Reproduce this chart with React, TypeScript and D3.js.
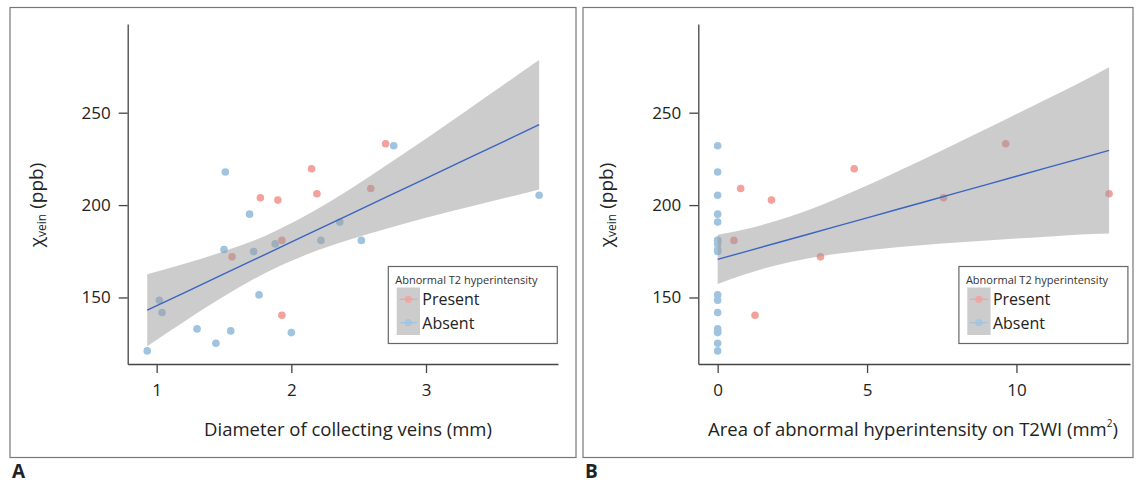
import React, { useEffect, useRef } from "react";
import * as d3 from "d3";

const yTicks = [150, 200, 250];
const xTicksA = [1, 2, 3];
const xTicksB = [0, 5, 10];

// Absent (blue) group
const chiAbsent = [121.1, 125.2, 131.0, 131.9, 133.0, 141.9, 148.5, 151.4, 174.9, 176.0, 179.0, 180.9, 180.9, 190.8, 195.1, 205.3, 217.9, 232.1];
const diameterAbsent = [0.93, 1.44, 2.0, 1.55, 1.3, 1.04, 1.02, 1.76, 1.72, 1.5, 1.88, 2.22, 2.52, 2.36, 1.69, 3.84, 1.51, 2.76];
const areaAbsent = [0, 0, 0, 0, 0, 0, 0, 0, 0, 0, 0, 0, 0, 0, 0, 0, 0, 0];

// Present (red) group
const chiPresent = [140.4, 172.0, 180.9, 202.7, 204.0, 206.1, 209.0, 219.7, 233.2];
const diameterPresent = [1.93, 1.56, 1.93, 1.9, 1.77, 2.19, 2.59, 2.15, 2.7];
const areaPresent = [1.25, 3.44, 0.545, 1.8, 7.56, 13.1, 0.77, 4.57, 9.64];

// fitted line + confidence band
const bandAx = [0.93, 1.2, 1.5, 1.8, 2.1, 2.4, 2.7, 3.0, 3.3, 3.6, 3.84];
const bandAfit = [143.1, 152.4, 162.8, 173.1, 183.5, 193.8, 204.2, 214.5, 224.9, 235.2, 243.5];
const bandAlo = [123.6, 136.7, 150.6, 163.0, 172.9, 180.6, 187.1, 193.1, 198.7, 204.1, 208.5];
const bandAhi = [162.6, 168.1, 175.0, 183.2, 194.1, 207.0, 221.3, 235.9, 251.1, 266.3, 278.5];

const bandBx = [0, 1, 2, 3, 4, 5, 6, 7, 8, 9, 10, 11, 12, 13.1];
const bandBfit = [170.6, 175.1, 179.6, 184.1, 188.6, 193.1, 197.6, 202.1, 206.6, 211.1, 215.6, 220.1, 224.6, 229.6];
const bandBlo = [157.3, 163.0, 167.6, 171.1, 173.6, 175.6, 177.2, 178.6, 179.8, 180.9, 181.9, 182.9, 183.9, 184.6];
const bandBhi = [183.9, 187.2, 191.6, 197.1, 203.6, 210.6, 218.0, 225.6, 233.4, 241.3, 249.3, 257.3, 265.3, 274.6];

const legendTitle = "Abnormal T2 hyperintensity";
const legendLabels = ["Present", "Absent"];

const FONT = "'Open Sans', sans-serif";
const RED = "#f4a09c";
const BLUE = "#a0c4e0";

const App = () => {
    const ref = useRef(null);

    useEffect(() => {
        const svg = d3.select(ref.current);
        svg.selectAll("*").remove();

        const yTop = 24;
        const yBottom = 364;
        const y = d3.scaleLinear().domain([114, 298]).range([yBottom, yTop]);

        const panels = [
            {
                label: "A", frameX: 10, frameR: 576, axisX: 127.7, axisR: 558,
                xDomain: [0.785, 3.98], xTicks: xTicksA,
                xAbsent: diameterAbsent, xPresent: diameterPresent,
                bx: bandAx, fit: bandAfit, lo: bandAlo, hi: bandAhi,
                xTitle: "Diameter of collecting veins (mm)", xTitleX: 348, sup: false,
                yTitleX: 43,
            },
            {
                label: "B", frameX: 583, frameR: 1133, axisX: 698.3, axisR: 1130,
                xDomain: [-0.648, 13.8], xTicks: xTicksB,
                xAbsent: areaAbsent, xPresent: areaPresent,
                bx: bandBx, fit: bandBfit, lo: bandBlo, hi: bandBhi,
                xTitle: "Area of abnormal hyperintensity on T2WI (mm", xTitleX: 913, sup: true,
                yTitleX: 613,
            },
        ];

        panels.forEach(p => {
            const g = svg.append("g");
            const x = d3.scaleLinear().domain(p.xDomain).range([p.axisX, p.axisR]);

            // outer frame
            g.append("rect")
                .attr("x", p.frameX).attr("y", 7.5)
                .attr("width", p.frameR - p.frameX).attr("height", 450)
                .attr("fill", "none").attr("stroke", "#777").attr("stroke-width", 1.2);

            g.append("text")
                .attr("x", p.frameX + 2).attr("y", 478)
                .attr("font-family", FONT).attr("font-weight", "bold")
                .attr("font-size", 19).attr("fill", "#222")
                .text(p.label);

            // points
            const pts = g.append("g");
            p.xAbsent.forEach((v, i) => {
                pts.append("circle").attr("cx", x(v)).attr("cy", y(chiAbsent[i]))
                    .attr("r", 3.8).attr("fill", BLUE);
            });
            p.xPresent.forEach((v, i) => {
                pts.append("circle").attr("cx", x(v)).attr("cy", y(chiPresent[i]))
                    .attr("r", 3.8).attr("fill", RED);
            });

            // confidence band + fit
            const idx = d3.range(p.bx.length);
            const area = d3.area()
                .x(i => x(p.bx[i]))
                .y0(i => y(p.lo[i]))
                .y1(i => y(p.hi[i]))
                .curve(d3.curveMonotoneX);
            g.append("path").attr("d", area(idx))
                .attr("fill", "#999").attr("fill-opacity", 0.5);

            const line = d3.line()
                .x(i => x(p.bx[i]))
                .y(i => y(p.fit[i]));
            g.append("path").attr("d", line(idx))
                .attr("fill", "none").attr("stroke", "#3a64c0").attr("stroke-width", 1.4);

            // axes
            const yAxis = d3.axisLeft(y).tickValues(yTicks).tickSize(9).tickSizeOuter(0).tickPadding(8)
                .tickFormat(d3.format("d"));
            const yg = g.append("g").attr("transform", `translate(${p.axisX},0)`).call(yAxis);
            const xAxis = d3.axisBottom(x).tickValues(p.xTicks).tickSize(9).tickSizeOuter(0).tickPadding(11)
                .tickFormat(d3.format("d"));
            const xg = g.append("g").attr("transform", `translate(0,${yBottom})`).call(xAxis);
            [yg, xg].forEach(ax => {
                ax.attr("font-family", FONT).attr("font-size", 17);
                ax.selectAll("path, line").attr("stroke", "#444").attr("stroke-width", 1.3);
                ax.selectAll("text").attr("fill", "#222");
            });

            // axis titles
            const xt = g.append("text")
                .attr("x", p.xTitleX).attr("y", 436)
                .attr("text-anchor", "middle")
                .attr("font-family", FONT).attr("font-size", 18.5).attr("fill", "#222")
                .text(p.xTitle);
            if (p.sup) {
                xt.append("tspan").attr("font-size", 10).attr("dy", -9).text("2");
                xt.append("tspan").attr("dy", 9).text(")");
            }

            const yt = g.append("text")
                .attr("transform", `translate(${p.yTitleX},${(yTop + yBottom) / 2 + 11}) rotate(-90)`)
                .attr("text-anchor", "middle")
                .attr("font-family", FONT).attr("font-size", 19).attr("fill", "#222");
            yt.append("tspan").text("χ");
            yt.append("tspan").attr("font-size", 12).attr("dy", 3).text("vein");
            yt.append("tspan").attr("dy", -3).text(" (ppb)");

            // legend
            const lg = g.append("g").attr("transform", `translate(${p.axisX + 260.6},266.5)`);
            lg.append("rect").attr("width", 169).attr("height", 77)
                .attr("fill", "white").attr("stroke", "#666").attr("stroke-width", 1.2);
            lg.append("text").attr("x", 7).attr("y", 17)
                .attr("font-family", FONT).attr("font-size", 11).attr("fill", "#333")
                .text(legendTitle);
            lg.append("rect").attr("x", 8.4).attr("y", 21).attr("width", 23.3).attr("height", 47.5)
                .attr("fill", "#cccccc");
            [RED, BLUE].forEach((c, i) => {
                const cy = 32.8 + i * 23.4;
                lg.append("line").attr("x1", 11).attr("x2", 29).attr("y1", cy).attr("y2", cy)
                    .attr("stroke", c).attr("stroke-width", 1.2);
                lg.append("circle").attr("cx", 20).attr("cy", cy).attr("r", 3.6)
                    .attr("fill", c).attr("opacity", 0.8);
                lg.append("text").attr("x", 34).attr("y", cy)
                    .attr("dominant-baseline", "central")
                    .attr("font-family", FONT).attr("font-size", 16).attr("fill", "#222")
                    .text(legendLabels[i]);
            });
        });
    }, []);

    return (
        <div style={{ position: "absolute", left: 0, top: 0 }}>
            <svg ref={ref} width={1138} height={484} style={{ display: "block", background: "white" }} />
        </div>
    );
};

export default App;
